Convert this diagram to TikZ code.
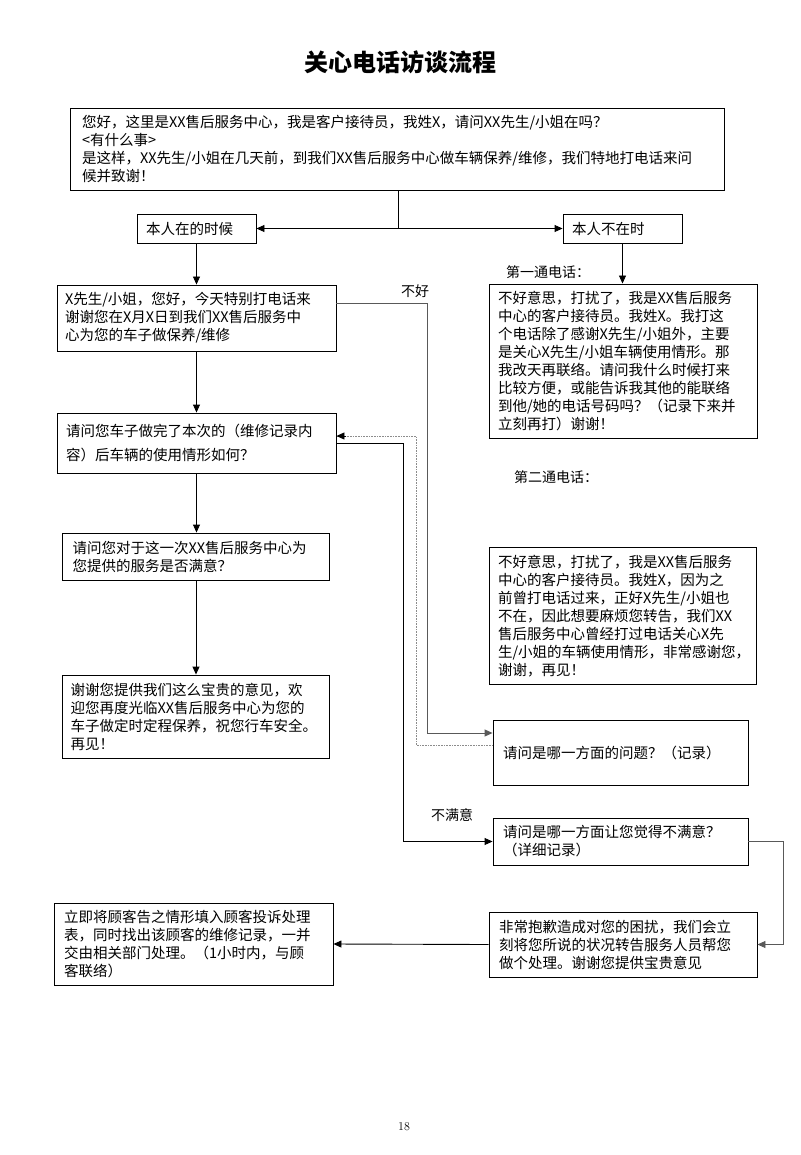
\documentclass[tikz,border=0pt]{standalone}
\usepackage{fontspec}
\newfontfamily\cjk{Noto Sans CJK SC}
\usetikzlibrary{arrows.meta}
\begin{document}
\begin{tikzpicture}[x=1pt,y=-1pt,
  box/.style={draw,line width=0.9pt,inner sep=0pt,align=left,
    font=\cjk\fontsize{14.5}{18}\selectfont},
  lbl/.style={font=\cjk\fontsize{14}{17}\selectfont,inner sep=0pt},
  conn/.style={line width=0.9pt},
  tip/.style={-{Triangle[length=8pt,width=7pt]}},
  greyline/.style={line width=0.9pt,draw=black!65},
  dotline/.style={line width=0.6pt,draw=black!45,densely dotted}]
\useasboundingbox (0,0) rectangle (800,1155);

\node[font=\cjk\bfseries\fontsize{24}{28}\selectfont] (title) at (400,62) {关心电话访谈流程};

\node[box,minimum width=654pt,minimum height=82pt,text width=630pt] (top) at (397,149)
 {您好，这里是XX售后服务中心，我是客户接待员，我姓X，请问XX先生/小姐在吗？\\
  <有什么事>\\
  是这样，XX先生/小姐在几天前，到我们XX售后服务中心做车辆保养/维修，我们特地打电话来问\\
  候并致谢！};

\node[box,minimum width=119pt,minimum height=29pt,text width=101pt] (zai) at (196.5,228.5) {本人在的时候};
\node[box,minimum width=119pt,minimum height=29pt,text width=101pt] (buzai) at (622.5,228.5) {本人不在时};

\node[box,minimum width=279pt,minimum height=66pt,text width=263pt] (b2) at (196.5,318)
 {X先生/小姐，您好，今天特别打电话来\\谢谢您在X月X日到我们XX售后服务中\\心为您的车子做保养/维修};

\node[box,minimum width=279pt,minimum height=60pt,text width=261pt,
  font=\cjk\fontsize{14.5}{24}\selectfont] (b3) at (196.5,443)
 {请问您车子做完了本次的（维修记录内\\容）后车辆的使用情形如何？};

\node[box,minimum width=267pt,minimum height=47pt,text width=247pt] (b4) at (196,556.5)
 {请问您对于这一次XX售后服务中心为\\您提供的服务是否满意？};

\node[box,minimum width=267pt,minimum height=83pt,text width=251pt] (b5) at (196,716.5)
 {谢谢您提供我们这么宝贵的意见，欢\\迎您再度光临XX售后服务中心为您的\\车子做定时定程保养，祝您行车安全。\\再见！};

\node[box,minimum width=268pt,minimum height=154pt,text width=250pt] (c1) at (623,361)
 {不好意思，打扰了，我是XX售后服务\\中心的客户接待员。我姓X。我打这\\个电话除了感谢X先生/小姐外，主要\\是关心X先生/小姐车辆使用情形。那\\我改天再联络。请问我什么时候打来\\比较方便，或能告诉我其他的能联络\\到他/她的电话号码吗？（记录下来并\\立刻再打）谢谢！};

\node[box,minimum width=267pt,minimum height=137pt,text width=249pt] (c2) at (622.5,616)
 {不好意思，打扰了，我是XX售后服务\\中心的客户接待员。我姓X，因为之\\前曾打电话过来，正好X先生/小姐也\\不在，因此想要麻烦您转告，我们XX\\售后服务中心曾经打过电话关心X先\\生/小姐的车辆使用情形，非常感谢您，\\谢谢，再见！};

\node[box,minimum width=255pt,minimum height=65pt,text width=235pt] (q1) at (620.5,752.5)
 {请问是哪一方面的问题？（记录）};

\node[box,minimum width=255pt,minimum height=47pt,text width=235pt] (q2) at (620.5,841.5)
 {请问是哪一方面让您觉得不满意？\\（详细记录）};

\node[box,minimum width=268pt,minimum height=65pt,text width=248pt] (sorry) at (623,944.5)
 {非常抱歉造成对您的困扰，我们会立\\刻将您所说的状况转告服务人员帮您\\做个处理。谢谢您提供宝贵意见};

\node[box,minimum width=279pt,minimum height=82pt,text width=259pt] (act) at (193.5,944)
 {立即将顾客告之情形填入顾客投诉处理\\表，同时找出该顾客的维修记录，一并\\交由相关部门处理。（1小时内，与顾\\客联络）};

\node[lbl] (l1) at (548,272) {第一通电话：};
\node[lbl] (l2) at (556,477) {第二通电话：};
\node[lbl] (lbad) at (415,291) {不好};
\node[lbl] (lnot) at (452,815) {不满意};
\node[font=\fontsize{12}{14}\selectfont] (pg) at (404,1127) {18};

% connectors
\coordinate (split) at (398,228.5);
\draw[conn] (top.south -| split) -- (split);
\draw[conn,{Triangle[length=8pt,width=7pt]}-{Triangle[length=8pt,width=7pt]}] (zai.east) -- (buzai.west);
\draw[conn,tip] (zai.south) -- (b2.north);
\draw[conn,tip] (buzai.south) -- (buzai.south |- c1.north);
\draw[conn,tip] (b2.south) -- (b3.north);
\draw[conn,tip] (b3.south) -- (b3.south |- b4.north);
\draw[conn,tip] (b4.south) -- (b5.north);

\coordinate (badturn) at (427,733);
\draw[greyline] (b2.east |- 0,303) -| (badturn);
\draw[greyline,tip] (badturn) -- (q1.west |- badturn);

\coordinate (notturn) at (403,841.5);
\draw[conn] (b3.east |- 0,443) -| (notturn);
\draw[conn,tip] (notturn) -- (q2.west);

\coordinate (dotturn) at (416,436);
\draw[dotline] (q1.west |- 0,745) -| (dotturn);
\draw[dotline] (dotturn) -- (b3.east |- dotturn);
\draw[conn,tip] ([xshift=10pt]b3.east |- dotturn) -- (b3.east |- dotturn);

\coordinate (rturn) at (783,944.5);
\draw[greyline] (q2.east) -| (rturn);
\draw[greyline,tip] (rturn) -- (sorry.east);
\draw[conn,tip] (sorry.west) -- (act.east);
\end{tikzpicture}
\end{document}
